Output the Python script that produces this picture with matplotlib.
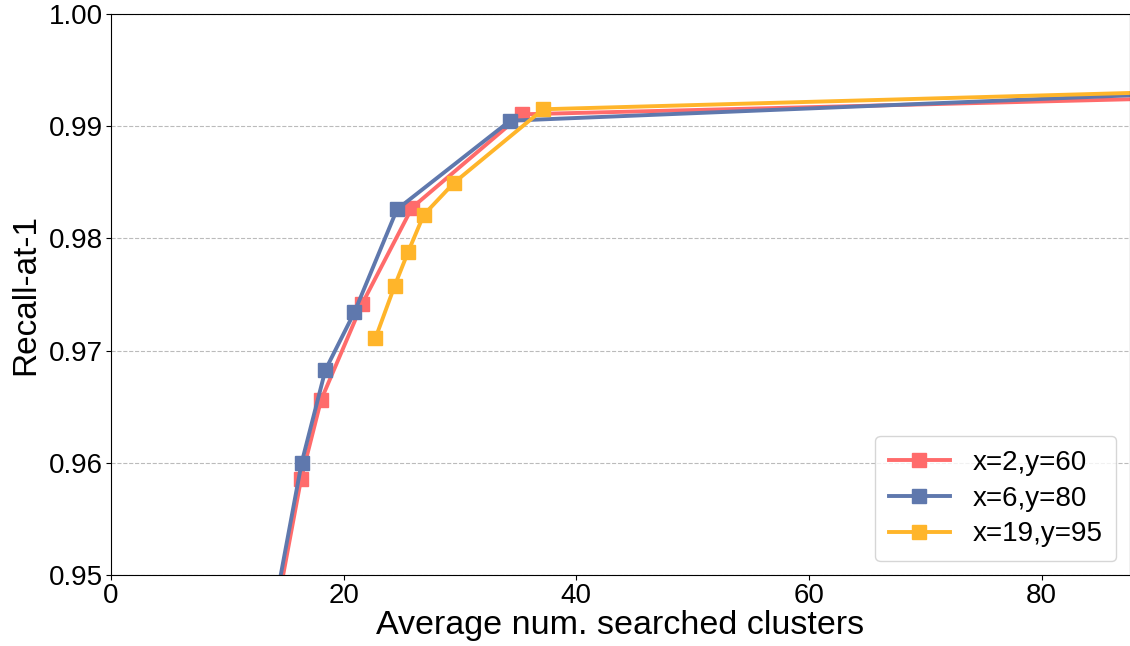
import numpy as np
import matplotlib.pyplot as plt

plt.rcParams['font.family'] = ['Liberation Sans', 'DejaVu Sans']

# data
x_a = [11.2, 16.34, 18.06, 21.58, 25.88, 35.31, 100.0]
y_a = [0.930, 0.95856, 0.9656, 0.97415, 0.98274, 0.99106, 0.99272]
x_b = [11.0, 16.39, 18.43, 20.92, 24.59, 34.31, 100.0]
y_b = [0.930, 0.96001, 0.96827, 0.97341, 0.98259, 0.99049, 0.99328]
x_c = [22.73, 24.39, 25.54, 26.88, 29.49, 37.15, 100.0]
y_c = [0.9711, 0.97579, 0.97879, 0.98209, 0.98496, 0.99151, 0.99332]
labels = ['x=2,y=60', 'x=6,y=80', 'x=19,y=95']
colors = ['#ff6b6b', '#5f78ad', '#ffb52a']

fig = plt.figure(figsize=(11.3, 6.46), dpi=100)
ax = fig.add_axes([111/1130, 1 - 575/646, 1 - 111/1130, (575-14)/646])

for xs, ys, lab, c in zip([x_a, x_b, x_c], [y_a, y_b, y_c], labels, colors):
    ax.plot(xs, ys, '-s', color=c, label=lab, linewidth=2.8, markersize=10)

ax.set_xlim(0, 87.6)
ax.set_ylim(0.95, 1.0)
ax.set_yticks([0.95, 0.96, 0.97, 0.98, 0.99, 1.00])
ax.set_xticks([0, 20, 40, 60, 80])
ax.tick_params(labelsize=20, pad=2)
ax.grid(axis='y', linestyle='--', color='#bbbbbb', linewidth=0.8)
ax.set_axisbelow(True)
ax.set_xlabel('Average num. searched clusters', fontsize=24.5, labelpad=1)
ax.set_ylabel('Recall-at-1', fontsize=24, labelpad=6)
ax.legend(loc='lower right', fontsize=20, handlelength=2.2, borderpad=0.5,
          labelspacing=0.35, bbox_to_anchor=(1.0, 0.0))

fig.savefig('out.png', dpi=100)
